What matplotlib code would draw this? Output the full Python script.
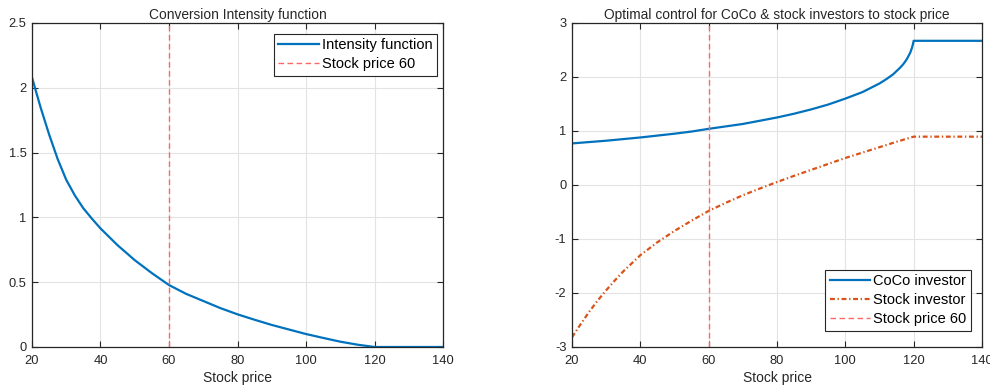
import numpy as np
import matplotlib
matplotlib.use('Agg')
import matplotlib.pyplot as plt

# Conversion intensity
price_int = [20, 22.5, 25, 27.5, 30, 32.5, 35, 37.5, 40, 45, 50, 55, 60, 65, 70,
             75, 80, 85, 90, 95, 100, 105, 110, 115, 120, 130, 140]
intensity = [2.08, 1.85, 1.64, 1.45, 1.29, 1.17, 1.07, 0.99, 0.915, 0.785, 0.67,
             0.57, 0.478, 0.41, 0.355, 0.30, 0.252, 0.21, 0.17, 0.135, 0.10, 0.07,
             0.041, 0.018, 0.0, 0.0, 0.0]

# Optimal controls
price_coco = [20, 25, 30, 35, 40, 45, 50, 55, 60, 65, 70, 75, 80, 85, 90, 95,
              100, 105, 110, 112, 114, 116, 117, 118, 119, 119.5, 119.8, 120, 130, 140]
coco = [0.77, 0.795, 0.82, 0.85, 0.88, 0.915, 0.95, 0.99, 1.04, 1.085, 1.13, 1.19,
        1.25, 1.32, 1.40, 1.49, 1.60, 1.72, 1.88, 1.96, 2.05, 2.17, 2.24, 2.33,
        2.45, 2.54, 2.61, 2.67, 2.67, 2.67]

price_stock = [20, 22.5, 25, 27.5, 30, 32.5, 35, 37.5, 40, 45, 50, 55, 60, 65, 70,
               75, 80, 85, 90, 95, 100, 105, 110, 115, 120, 130, 140]
stock = [-2.82, -2.58, -2.35, -2.14, -1.95, -1.77, -1.60, -1.45, -1.30, -1.06,
         -0.85, -0.66, -0.48, -0.33, -0.19, -0.065, 0.055, 0.17, 0.28, 0.39, 0.50,
         0.60, 0.70, 0.80, 0.895, 0.895, 0.895]

ref_price = 60

blue = '#0072BD'
orange = '#D95319'
red = '#FF6666'
dark = '#262626'

plt.rcParams['font.family'] = ['Liberation Sans', 'DejaVu Sans']
plt.rcParams['axes.unicode_minus'] = False

fig = plt.figure(figsize=(9.9, 3.89), dpi=100)
ax1 = fig.add_axes([0.0323, 0.108, 0.4152, 0.8329])
ax2 = fig.add_axes([0.5778, 0.108, 0.4141, 0.8329])


def style(ax):
    ax.set_xlim(20, 140)
    ax.set_xticks([20, 40, 60, 80, 100, 120, 140])
    ax.grid(True, color='#e3e3e3', linewidth=0.8)
    ax.set_axisbelow(True)
    ax.tick_params(direction='in', length=4, width=0.8, top=True, right=True,
                   labelsize=9.3, colors=dark)
    ax.tick_params(axis='x', pad=6)
    ax.tick_params(axis='y', pad=4)
    for s in ax.spines.values():
        s.set_color(dark)
        s.set_linewidth(0.9)
    ax.set_xlabel('Stock price', fontsize=10, color=dark, labelpad=3)


# Left: intensity function
ax1.plot(price_int, intensity, color=blue, lw=1.6, label='Intensity function')
ax1.axvline(ref_price, color=red, lw=1, dashes=(4, 2.5), label='Stock price 60')
ax1.set_ylim(0, 2.5)
ax1.set_yticks([0, 0.5, 1, 1.5, 2, 2.5])
ax1.set_yticklabels(['0', '0.5', '1', '1.5', '2', '2.5'])
style(ax1)
ax1.set_title('Conversion Intensity function', fontsize=9.9, color=dark, pad=3)
leg = ax1.legend(loc='upper right', bbox_to_anchor=(0.985, 0.966), borderaxespad=0,
                 fontsize=10.5, handlelength=2.8, handletextpad=0.2,
                 labelspacing=0.35, borderpad=0.3, fancybox=False,
                 edgecolor=dark, framealpha=1)
leg.get_frame().set_linewidth(0.8)

# Right: optimal controls
ax2.plot(price_coco, coco, color=blue, lw=1.6, label='CoCo investor')
ax2.plot(price_stock, stock, color=orange, lw=1.6, dashes=(2.2, 1.2, 0.6, 1.2),
         label='Stock investor')
ax2.axvline(ref_price, color=red, lw=1, dashes=(4, 2.5), label='Stock price 60')
ax2.set_ylim(-3, 3)
ax2.set_yticks(range(-3, 4))
style(ax2)
ax2.set_title('Optimal control for CoCo & stock investors to stock price',
              fontsize=9.9, color=dark, pad=3)
leg2 = ax2.legend(loc='lower right', bbox_to_anchor=(0.973, 0.05), borderaxespad=0,
                  fontsize=10.5, handlelength=2.8, handletextpad=0.2,
                  labelspacing=0.35, borderpad=0.3, fancybox=False,
                  edgecolor=dark, framealpha=1)
leg2.get_frame().set_linewidth(0.8)

fig.savefig('out.png', dpi=100)
